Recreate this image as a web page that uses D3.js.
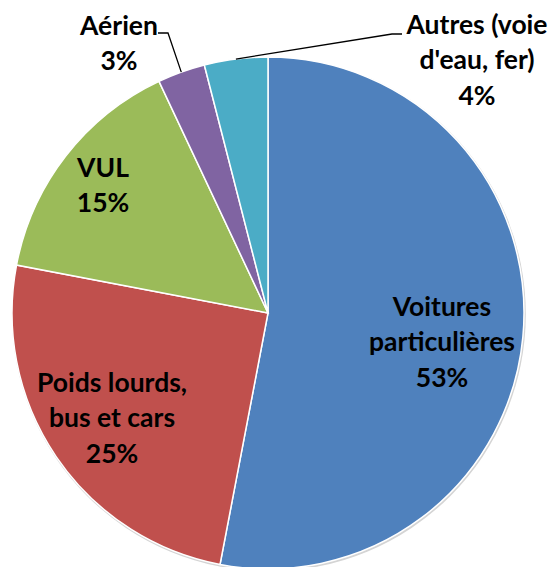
<!doctype html>
<html>
<head>
<meta charset="utf-8"/>
<title>Répartition</title>
<script src="https://d3js.org/d3.v7.min.js"></script>
<style>
body { margin: 0; background: #fff; }
text { font-family: Lato, "Open Sans", sans-serif; font-weight: bold; fill: #000; }
</style>
</head>
<body>
<script type="text/javascript">
// donnees
var categories = ["Voitures particulières", "Poids lourds, bus et cars", "VUL", "Aérien", "Autres (voie d'eau, fer)"];
var valeurs = [53, 25, 15, 3, 4];
var lignes = [
  ["Voitures", "particulières", "53%"],
  ["Poids lourds,", "bus et cars", "25%"],
  ["VUL", "15%"],
  ["Aérien", "3%"],
  ["Autres (voie", "d'eau, fer)", "4%"]
];
var couleurs = ["#4F81BD", "#C0504D", "#9BBB59", "#8064A2", "#4BACC6"];

var largeur = 551, hauteur = 567;
var cx = 268, cy = 313, rayon = 256;
var taille = 26.5, interligne = 35.5;

// placement des etiquettes (dx, dy depuis le centre), coude = ligne de rappel
var place = [
  {dx: 174, dy: 29},
  {dx: -156, dy: 105},
  {dx: -165, dy: -128},
  {dx: -149, dy: -270, coude: [[-100, -280], [-110, -280]]},
  {dx: 209, dy: -253, coude: [[124, -279], [134, -279]]}
];

var svg = d3.select("body").append("svg")
  .attr("width", largeur)
  .attr("height", hauteur);

var g = svg.append("g").attr("transform", "translate(" + cx + "," + cy + ")");

// ombre legere
g.append("circle")
  .attr("cx", 0.8).attr("cy", 1.2)
  .attr("r", rayon + 1)
  .attr("fill", "#d4d4d4");

var pie = d3.pie().sort(null).value(function(d) { return d; });
var arcs = pie(valeurs);
var arc = d3.arc().innerRadius(0).outerRadius(rayon);

g.selectAll("path.part")
  .data(arcs)
  .enter()
  .append("path")
  .attr("class", "part")
  .attr("d", arc)
  .attr("fill", function(d, i) { return couleurs[i]; })
  .attr("stroke", "#fff")
  .attr("stroke-width", 1.5);

// lignes de rappel
arcs.forEach(function(d, i) {
  if (!place[i].coude) return;
  var a = (d.startAngle + d.endAngle) / 2;
  var p0 = [rayon * Math.sin(a), -rayon * Math.cos(a)];
  var pts = [p0].concat(place[i].coude);
  g.append("path")
    .attr("d", d3.line()(pts))
    .attr("fill", "none")
    .attr("stroke", "#000")
    .attr("stroke-width", 1.3);
});

// etiquettes
lignes.forEach(function(ls, i) {
  var t = g.append("text")
    .attr("text-anchor", "middle")
    .attr("font-size", taille);
  var y0 = place[i].dy - (ls.length - 1) * interligne / 2;
  ls.forEach(function(l, j) {
    t.append("tspan")
      .attr("x", place[i].dx)
      .attr("y", y0 + j * interligne)
      .attr("dy", "0.35em")
      .text(l);
  });
});
</script>
</body>
</html>
